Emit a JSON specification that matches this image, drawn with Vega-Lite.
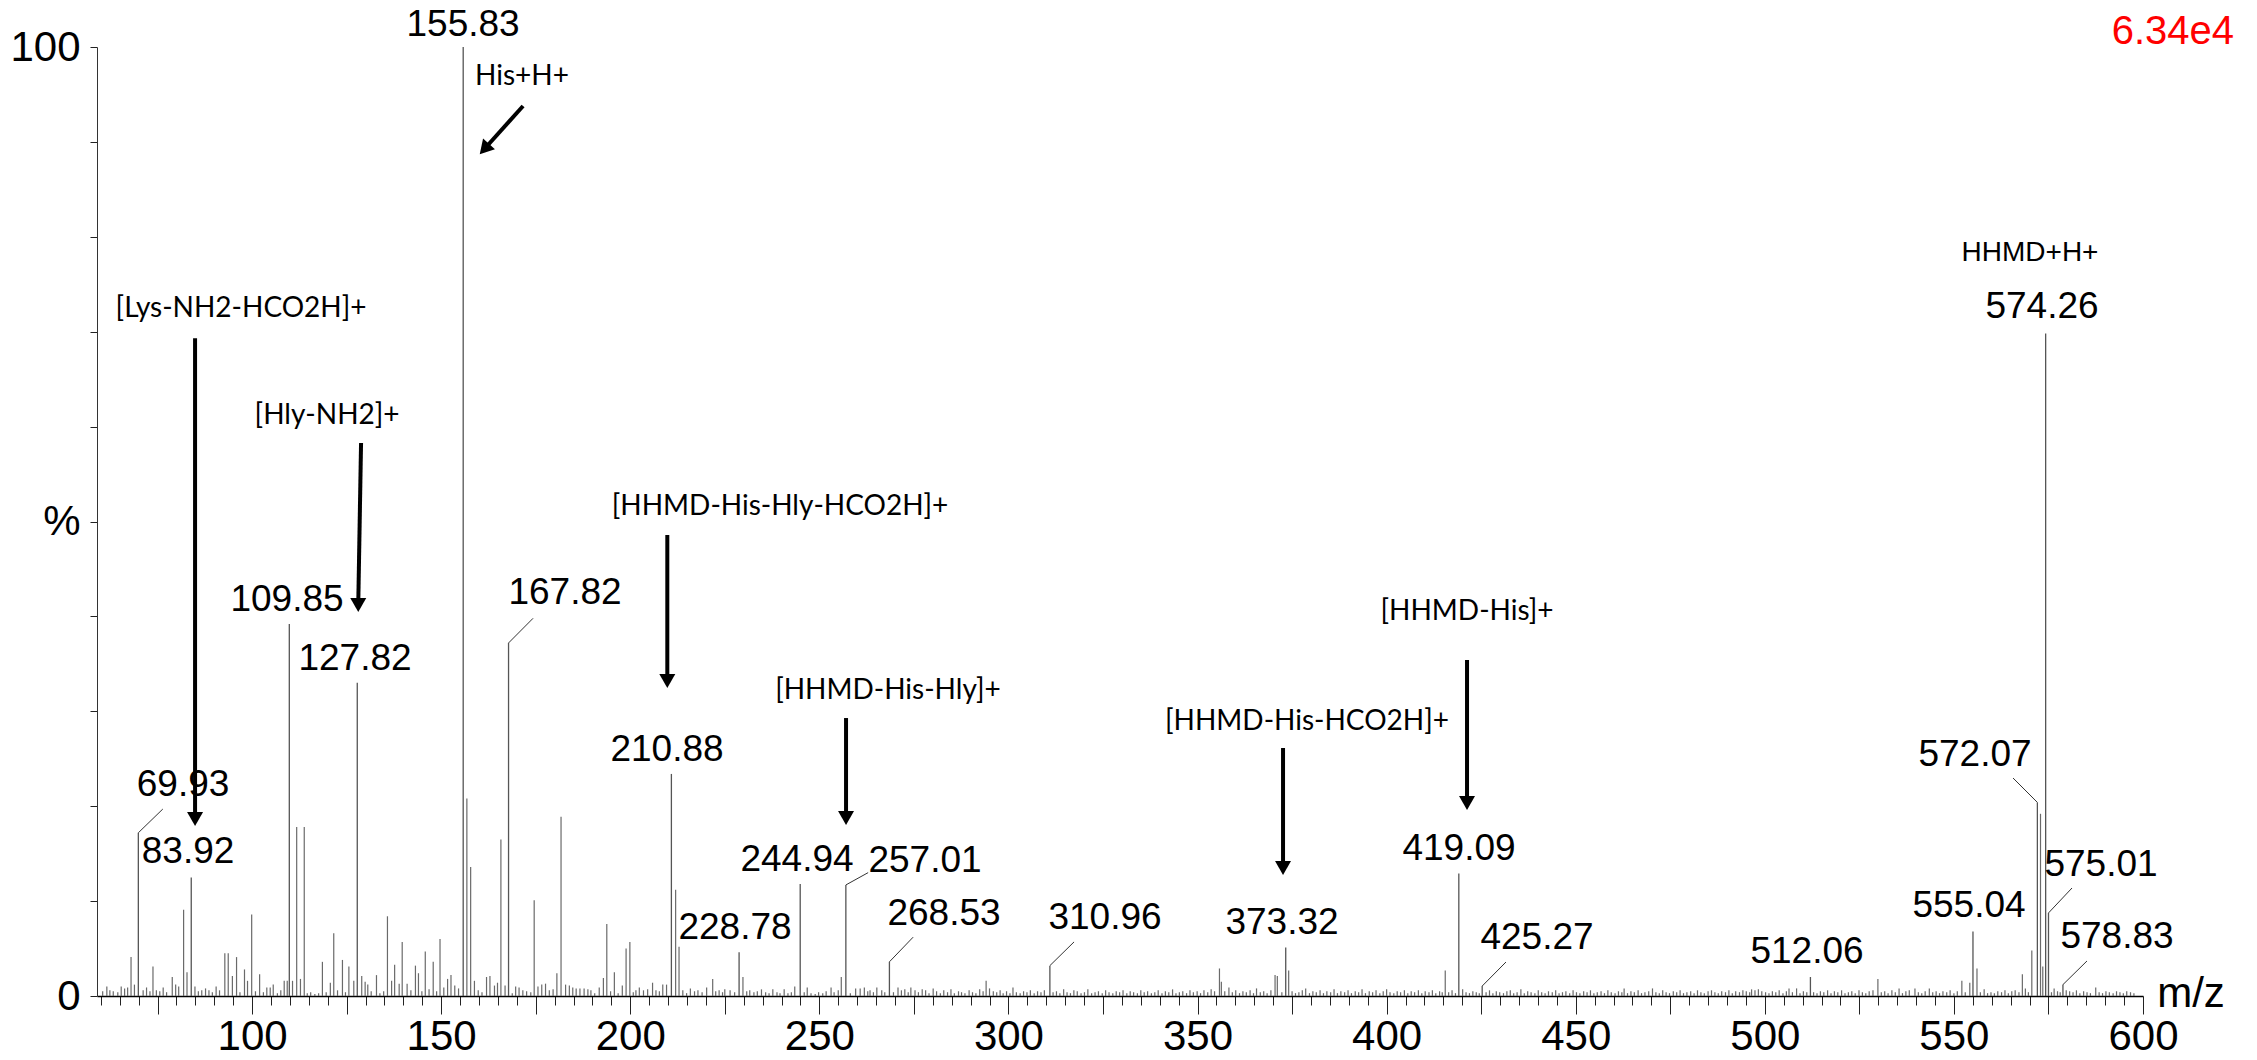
{
"$schema":"https://vega.github.io/schema/vega-lite/v6.json",
"width":2046,"height":949,"autosize":{"type":"none"},
"padding":{"left":97,"top":47,"right":114,"bottom":64},
"background":"white",
"config":{"view":{"stroke":null},"axis":{"grid":false}},
"datasets":{
"peaks":[
{"mz":69.93,"pct":17.2},{"mz":83.92,"pct":12.5},{"mz":109.85,"pct":39.2},{"mz":127.82,"pct":33.0},{"mz":155.83,"pct":100},{"mz":167.82,"pct":37.2},{"mz":210.88,"pct":23.4},{"mz":228.78,"pct":4.6},{"mz":244.94,"pct":11.8},{"mz":257.01,"pct":11.7},{"mz":268.53,"pct":3.6},{"mz":310.96,"pct":3.2},{"mz":373.32,"pct":5.1},{"mz":419.09,"pct":12.9},{"mz":425.27,"pct":1.05},{"mz":512.06,"pct":2.0},{"mz":555.04,"pct":6.8},{"mz":572.07,"pct":20.4},{"mz":574.26,"pct":69.8},{"mz":575.01,"pct":8.75},{"mz":578.83,"pct":1.2}
],
"minor":[
{"mz":60.5,"pct":0.5},{"mz":61.6,"pct":1.0},{"mz":62.4,"pct":0.6},{"mz":63.3,"pct":0.5},{"mz":64.5,"pct":0.4},{"mz":65.4,"pct":1.0},{"mz":66.3,"pct":0.8},{"mz":67.1,"pct":0.9},{"mz":68.0,"pct":4.1},{"mz":68.9,"pct":1.2},{"mz":71.2,"pct":0.6},{"mz":72.1,"pct":0.9},{"mz":73.0,"pct":0.5},{"mz":73.8,"pct":3.1},{"mz":74.7,"pct":0.6},{"mz":75.6,"pct":0.5},{"mz":76.5,"pct":0.9},{"mz":77.4,"pct":0.4},{"mz":78.9,"pct":2.0},{"mz":79.8,"pct":1.2},{"mz":80.6,"pct":1.0},{"mz":81.9,"pct":9.1},{"mz":82.8,"pct":2.5},{"mz":84.9,"pct":1.0},{"mz":85.8,"pct":0.5},{"mz":86.7,"pct":0.6},{"mz":87.7,"pct":0.8},{"mz":88.6,"pct":0.6},{"mz":89.5,"pct":0.4},{"mz":90.5,"pct":1.0},{"mz":91.4,"pct":0.6},{"mz":92.8,"pct":4.5},{"mz":93.7,"pct":4.5},{"mz":94.8,"pct":2.1},{"mz":95.9,"pct":4.1},{"mz":96.8,"pct":0.4},{"mz":98.0,"pct":2.8},{"mz":98.8,"pct":1.6},{"mz":99.9,"pct":8.6},{"mz":100.9,"pct":0.5},{"mz":102.0,"pct":2.3},{"mz":103.0,"pct":0.4},{"mz":103.9,"pct":0.9},{"mz":104.8,"pct":0.9},{"mz":105.6,"pct":1.2},{"mz":106.7,"pct":0.3},{"mz":107.6,"pct":0.6},{"mz":108.5,"pct":1.6},{"mz":109.3,"pct":1.6},{"mz":110.7,"pct":1.6},{"mz":111.8,"pct":17.8},{"mz":112.8,"pct":1.8},{"mz":113.8,"pct":17.8},{"mz":114.6,"pct":0.3},{"mz":115.5,"pct":0.4},{"mz":116.6,"pct":0.2},{"mz":117.6,"pct":0.3},{"mz":118.6,"pct":3.6},{"mz":119.6,"pct":0.4},{"mz":120.7,"pct":1.4},{"mz":121.6,"pct":6.6},{"mz":122.6,"pct":0.6},{"mz":123.9,"pct":3.8},{"mz":124.7,"pct":0.4},{"mz":125.6,"pct":3.1},{"mz":126.9,"pct":1.6},{"mz":129.0,"pct":2.1},{"mz":129.9,"pct":1.5},{"mz":130.6,"pct":1.2},{"mz":131.5,"pct":0.5},{"mz":132.9,"pct":2.2},{"mz":133.8,"pct":0.3},{"mz":134.8,"pct":0.5},{"mz":135.8,"pct":8.4},{"mz":136.9,"pct":1.6},{"mz":137.7,"pct":3.3},{"mz":138.9,"pct":1.3},{"mz":139.7,"pct":5.7},{"mz":141.0,"pct":1.3},{"mz":142.0,"pct":0.6},{"mz":143.2,"pct":3.2},{"mz":144.0,"pct":2.4},{"mz":144.9,"pct":0.5},{"mz":145.8,"pct":4.7},{"mz":146.8,"pct":0.7},{"mz":147.9,"pct":3.6},{"mz":148.8,"pct":0.5},{"mz":149.7,"pct":6.0},{"mz":150.7,"pct":0.9},{"mz":151.7,"pct":1.8},{"mz":152.6,"pct":2.2},{"mz":153.6,"pct":1.1},{"mz":154.6,"pct":0.8},{"mz":156.8,"pct":20.8},{"mz":157.8,"pct":13.6},{"mz":158.8,"pct":1.6},{"mz":159.8,"pct":0.6},{"mz":160.8,"pct":0.4},{"mz":162.0,"pct":2.0},{"mz":162.9,"pct":2.1},{"mz":164.1,"pct":1.1},{"mz":164.9,"pct":1.4},{"mz":165.8,"pct":16.5},{"mz":166.9,"pct":1.1},{"mz":168.8,"pct":0.3},{"mz":169.7,"pct":1.0},{"mz":170.6,"pct":0.9},{"mz":171.6,"pct":0.6},{"mz":172.6,"pct":0.5},{"mz":173.7,"pct":0.4},{"mz":174.6,"pct":10.1},{"mz":175.6,"pct":1.0},{"mz":176.6,"pct":1.2},{"mz":177.6,"pct":1.3},{"mz":178.6,"pct":0.6},{"mz":179.6,"pct":0.7},{"mz":180.6,"pct":2.4},{"mz":181.7,"pct":18.9},{"mz":182.9,"pct":1.2},{"mz":183.9,"pct":1.1},{"mz":184.8,"pct":0.9},{"mz":185.7,"pct":0.8},{"mz":186.7,"pct":0.8},{"mz":187.8,"pct":0.8},{"mz":188.8,"pct":0.7},{"mz":189.6,"pct":0.6},{"mz":190.6,"pct":0.3},{"mz":191.8,"pct":0.9},{"mz":192.9,"pct":1.9},{"mz":193.8,"pct":7.6},{"mz":194.8,"pct":0.5},{"mz":195.8,"pct":2.5},{"mz":196.8,"pct":0.3},{"mz":197.9,"pct":1.1},{"mz":198.9,"pct":5.0},{"mz":199.9,"pct":5.7},{"mz":200.8,"pct":0.4},{"mz":201.5,"pct":0.6},{"mz":202.4,"pct":0.9},{"mz":203.5,"pct":0.6},{"mz":204.6,"pct":0.7},{"mz":205.9,"pct":1.4},{"mz":206.8,"pct":0.6},{"mz":207.7,"pct":0.5},{"mz":208.6,"pct":1.2},{"mz":209.6,"pct":1.2},{"mz":212.0,"pct":11.2},{"mz":212.9,"pct":5.2},{"mz":213.9,"pct":0.6},{"mz":214.9,"pct":0.3},{"mz":215.9,"pct":0.8},{"mz":217.0,"pct":0.5},{"mz":217.9,"pct":0.6},{"mz":219.0,"pct":0.4},{"mz":220.2,"pct":0.9},{"mz":221.8,"pct":1.8},{"mz":222.6,"pct":0.5},{"mz":223.5,"pct":0.6},{"mz":224.4,"pct":0.4},{"mz":225.0,"pct":0.7},{"mz":226.4,"pct":0.6},{"mz":227.6,"pct":0.4},{"mz":229.8,"pct":2.0},{"mz":230.8,"pct":0.5},{"mz":231.6,"pct":0.6},{"mz":232.7,"pct":0.4},{"mz":233.6,"pct":0.5},{"mz":234.7,"pct":0.7},{"mz":235.8,"pct":0.4},{"mz":236.7,"pct":0.3},{"mz":237.7,"pct":0.7},{"mz":238.8,"pct":0.4},{"mz":239.6,"pct":0.3},{"mz":240.7,"pct":0.7},{"mz":241.7,"pct":0.3},{"mz":242.6,"pct":0.4},{"mz":243.5,"pct":1.0},{"mz":246.0,"pct":0.4},{"mz":246.8,"pct":0.9},{"mz":247.8,"pct":0.3},{"mz":248.9,"pct":0.2},{"mz":249.8,"pct":0.4},{"mz":250.9,"pct":0.3},{"mz":251.8,"pct":0.5},{"mz":253.1,"pct":0.9},{"mz":253.9,"pct":0.4},{"mz":255.0,"pct":0.6},{"mz":255.8,"pct":2.0},{"mz":258.2,"pct":0.3},{"mz":259.6,"pct":0.8},{"mz":260.8,"pct":0.8},{"mz":261.9,"pct":0.9},{"mz":262.8,"pct":0.5},{"mz":263.4,"pct":0.6},{"mz":264.3,"pct":0.4},{"mz":265.2,"pct":0.9},{"mz":266.5,"pct":0.6},{"mz":267.3,"pct":0.4},{"mz":269.6,"pct":0.4},{"mz":270.8,"pct":0.9},{"mz":271.7,"pct":0.6},{"mz":272.6,"pct":0.7},{"mz":273.5,"pct":0.4},{"mz":274.2,"pct":0.9},{"mz":275.3,"pct":0.6},{"mz":276.2,"pct":0.4},{"mz":277.2,"pct":0.7},{"mz":278.1,"pct":0.6},{"mz":279.0,"pct":0.3},{"mz":280.1,"pct":0.8},{"mz":281.0,"pct":0.5},{"mz":282.0,"pct":0.3},{"mz":282.9,"pct":0.6},{"mz":283.9,"pct":0.4},{"mz":284.8,"pct":0.7},{"mz":285.7,"pct":0.3},{"mz":286.8,"pct":0.5},{"mz":287.6,"pct":0.4},{"mz":288.5,"pct":0.3},{"mz":289.6,"pct":0.6},{"mz":290.5,"pct":0.4},{"mz":291.4,"pct":0.3},{"mz":292.4,"pct":0.7},{"mz":293.3,"pct":0.5},{"mz":294.1,"pct":1.6},{"mz":295.0,"pct":0.8},{"mz":296.0,"pct":0.5},{"mz":296.9,"pct":0.4},{"mz":297.8,"pct":0.6},{"mz":298.6,"pct":0.3},{"mz":299.5,"pct":0.5},{"mz":300.4,"pct":0.3},{"mz":301.2,"pct":0.9},{"mz":302.1,"pct":0.4},{"mz":303.1,"pct":0.3},{"mz":304.0,"pct":0.5},{"mz":304.9,"pct":0.4},{"mz":305.8,"pct":0.6},{"mz":306.8,"pct":0.3},{"mz":307.7,"pct":0.5},{"mz":308.6,"pct":0.4},{"mz":309.5,"pct":0.6},{"mz":311.8,"pct":0.4},{"mz":312.7,"pct":0.5},{"mz":313.6,"pct":0.3},{"mz":314.6,"pct":0.7},{"mz":315.5,"pct":0.4},{"mz":316.4,"pct":0.3},{"mz":317.3,"pct":0.6},{"mz":318.2,"pct":0.5},{"mz":319.2,"pct":0.3},{"mz":320.1,"pct":0.4},{"mz":321.0,"pct":0.7},{"mz":322.0,"pct":0.3},{"mz":322.9,"pct":0.4},{"mz":323.8,"pct":0.5},{"mz":324.8,"pct":0.3},{"mz":325.7,"pct":0.6},{"mz":326.6,"pct":0.4},{"mz":327.6,"pct":0.3},{"mz":328.5,"pct":0.5},{"mz":329.4,"pct":0.4},{"mz":330.3,"pct":0.6},{"mz":331.3,"pct":0.3},{"mz":332.2,"pct":0.5},{"mz":333.1,"pct":0.4},{"mz":334.1,"pct":0.3},{"mz":335.0,"pct":0.6},{"mz":335.9,"pct":0.4},{"mz":336.8,"pct":0.5},{"mz":337.8,"pct":0.3},{"mz":338.7,"pct":0.4},{"mz":339.6,"pct":0.6},{"mz":340.6,"pct":0.3},{"mz":341.5,"pct":0.5},{"mz":342.4,"pct":0.4},{"mz":343.4,"pct":0.7},{"mz":344.3,"pct":0.3},{"mz":345.2,"pct":0.4},{"mz":346.1,"pct":0.5},{"mz":347.1,"pct":0.3},{"mz":348.0,"pct":0.6},{"mz":348.9,"pct":0.4},{"mz":349.9,"pct":0.5},{"mz":350.8,"pct":0.3},{"mz":351.7,"pct":0.6},{"mz":352.7,"pct":0.4},{"mz":353.6,"pct":0.7},{"mz":354.5,"pct":0.5},{"mz":355.8,"pct":2.9},{"mz":356.3,"pct":1.5},{"mz":357.2,"pct":0.5},{"mz":358.3,"pct":0.9},{"mz":359.2,"pct":0.4},{"mz":360.1,"pct":0.6},{"mz":361.1,"pct":0.3},{"mz":362.0,"pct":0.5},{"mz":362.9,"pct":0.4},{"mz":363.9,"pct":0.6},{"mz":364.8,"pct":0.3},{"mz":365.6,"pct":0.8},{"mz":366.6,"pct":0.4},{"mz":367.5,"pct":0.5},{"mz":368.4,"pct":0.3},{"mz":369.4,"pct":0.6},{"mz":370.5,"pct":2.2},{"mz":371.1,"pct":2.1},{"mz":372.3,"pct":0.4},{"mz":374.1,"pct":2.7},{"mz":375.0,"pct":0.5},{"mz":375.9,"pct":0.3},{"mz":376.8,"pct":0.4},{"mz":377.7,"pct":0.6},{"mz":378.6,"pct":0.8},{"mz":379.6,"pct":0.3},{"mz":380.5,"pct":0.5},{"mz":381.4,"pct":0.4},{"mz":382.4,"pct":0.6},{"mz":383.3,"pct":0.3},{"mz":384.2,"pct":0.5},{"mz":385.2,"pct":0.4},{"mz":386.1,"pct":0.7},{"mz":387.0,"pct":0.3},{"mz":387.9,"pct":0.5},{"mz":388.9,"pct":0.4},{"mz":389.8,"pct":0.6},{"mz":390.7,"pct":0.3},{"mz":391.7,"pct":0.5},{"mz":392.6,"pct":0.4},{"mz":393.5,"pct":0.7},{"mz":394.4,"pct":0.3},{"mz":395.4,"pct":0.5},{"mz":396.3,"pct":0.4},{"mz":397.2,"pct":0.6},{"mz":398.2,"pct":0.3},{"mz":399.1,"pct":0.5},{"mz":400.0,"pct":0.7},{"mz":400.9,"pct":0.4},{"mz":401.9,"pct":0.3},{"mz":402.8,"pct":0.5},{"mz":403.7,"pct":0.4},{"mz":404.7,"pct":0.6},{"mz":405.6,"pct":0.3},{"mz":406.5,"pct":0.5},{"mz":407.4,"pct":0.4},{"mz":408.4,"pct":0.6},{"mz":409.3,"pct":0.3},{"mz":410.2,"pct":0.5},{"mz":411.2,"pct":0.4},{"mz":412.1,"pct":0.6},{"mz":413.0,"pct":0.3},{"mz":414.0,"pct":0.5},{"mz":414.7,"pct":0.4},{"mz":415.5,"pct":2.7},{"mz":416.4,"pct":0.4},{"mz":417.3,"pct":0.6},{"mz":418.2,"pct":0.3},{"mz":420.1,"pct":0.7},{"mz":421.0,"pct":0.4},{"mz":421.9,"pct":0.3},{"mz":422.8,"pct":0.5},{"mz":423.7,"pct":0.4},{"mz":424.5,"pct":0.3},{"mz":426.3,"pct":0.4},{"mz":427.2,"pct":0.6},{"mz":428.1,"pct":0.3},{"mz":429.0,"pct":0.5},{"mz":429.9,"pct":0.4},{"mz":430.9,"pct":0.3},{"mz":431.8,"pct":0.5},{"mz":432.7,"pct":0.6},{"mz":433.6,"pct":0.3},{"mz":434.5,"pct":0.4},{"mz":435.5,"pct":0.7},{"mz":436.4,"pct":0.3},{"mz":437.3,"pct":0.5},{"mz":438.2,"pct":0.4},{"mz":439.2,"pct":0.3},{"mz":440.1,"pct":0.6},{"mz":441.0,"pct":0.4},{"mz":441.9,"pct":0.3},{"mz":442.8,"pct":0.5},{"mz":443.8,"pct":0.4},{"mz":444.7,"pct":0.6},{"mz":445.6,"pct":0.3},{"mz":446.5,"pct":0.4},{"mz":447.4,"pct":0.5},{"mz":448.4,"pct":0.3},{"mz":449.3,"pct":0.6},{"mz":450.2,"pct":0.4},{"mz":451.1,"pct":0.3},{"mz":452.1,"pct":0.5},{"mz":453.0,"pct":0.4},{"mz":453.9,"pct":0.6},{"mz":454.8,"pct":0.3},{"mz":455.7,"pct":0.4},{"mz":456.7,"pct":0.5},{"mz":457.6,"pct":0.3},{"mz":458.5,"pct":0.6},{"mz":459.4,"pct":0.4},{"mz":460.4,"pct":0.3},{"mz":461.3,"pct":0.5},{"mz":462.2,"pct":0.4},{"mz":462.8,"pct":0.8},{"mz":463.7,"pct":0.3},{"mz":464.6,"pct":0.5},{"mz":465.5,"pct":0.4},{"mz":466.5,"pct":0.6},{"mz":467.4,"pct":0.3},{"mz":468.3,"pct":0.4},{"mz":469.3,"pct":0.5},{"mz":470.3,"pct":0.8},{"mz":471.2,"pct":0.4},{"mz":472.1,"pct":0.3},{"mz":473.0,"pct":0.6},{"mz":473.9,"pct":0.4},{"mz":474.8,"pct":0.3},{"mz":475.8,"pct":0.5},{"mz":476.7,"pct":0.4},{"mz":477.6,"pct":0.6},{"mz":478.5,"pct":0.3},{"mz":479.4,"pct":0.4},{"mz":480.4,"pct":0.5},{"mz":481.3,"pct":0.3},{"mz":482.2,"pct":0.6},{"mz":483.1,"pct":0.4},{"mz":484.0,"pct":0.3},{"mz":485.0,"pct":0.5},{"mz":485.9,"pct":0.6},{"mz":486.8,"pct":0.4},{"mz":487.7,"pct":0.3},{"mz":488.6,"pct":0.5},{"mz":489.6,"pct":0.4},{"mz":490.5,"pct":0.6},{"mz":491.4,"pct":0.3},{"mz":492.3,"pct":0.5},{"mz":493.3,"pct":0.4},{"mz":494.2,"pct":0.6},{"mz":495.1,"pct":0.5},{"mz":496.0,"pct":0.4},{"mz":496.5,"pct":0.7},{"mz":497.4,"pct":0.6},{"mz":498.3,"pct":0.7},{"mz":499.2,"pct":0.5},{"mz":500.2,"pct":0.4},{"mz":501.1,"pct":0.3},{"mz":502.0,"pct":0.5},{"mz":502.9,"pct":0.4},{"mz":503.8,"pct":0.6},{"mz":504.8,"pct":0.3},{"mz":505.7,"pct":0.5},{"mz":506.4,"pct":0.8},{"mz":507.3,"pct":0.4},{"mz":508.4,"pct":0.8},{"mz":509.3,"pct":0.3},{"mz":510.2,"pct":0.5},{"mz":511.1,"pct":0.4},{"mz":512.9,"pct":0.4},{"mz":513.8,"pct":0.3},{"mz":514.7,"pct":0.5},{"mz":515.6,"pct":0.4},{"mz":516.6,"pct":0.6},{"mz":517.5,"pct":0.3},{"mz":518.4,"pct":0.5},{"mz":519.3,"pct":0.4},{"mz":520.3,"pct":0.6},{"mz":521.2,"pct":0.3},{"mz":522.1,"pct":0.4},{"mz":523.0,"pct":0.5},{"mz":523.9,"pct":0.3},{"mz":524.9,"pct":0.6},{"mz":525.8,"pct":0.4},{"mz":526.7,"pct":0.3},{"mz":527.6,"pct":0.5},{"mz":528.6,"pct":0.6},{"mz":529.9,"pct":1.8},{"mz":530.8,"pct":0.4},{"mz":531.7,"pct":0.5},{"mz":532.6,"pct":0.3},{"mz":533.6,"pct":0.6},{"mz":534.5,"pct":0.4},{"mz":535.5,"pct":0.8},{"mz":536.4,"pct":0.3},{"mz":537.3,"pct":0.5},{"mz":538.2,"pct":0.6},{"mz":539.7,"pct":0.8},{"mz":540.6,"pct":0.4},{"mz":541.5,"pct":0.3},{"mz":542.4,"pct":0.5},{"mz":543.5,"pct":0.8},{"mz":544.4,"pct":0.4},{"mz":545.3,"pct":0.5},{"mz":546.2,"pct":0.3},{"mz":547.1,"pct":0.5},{"mz":548.1,"pct":0.4},{"mz":549.0,"pct":0.6},{"mz":550.0,"pct":0.3},{"mz":550.9,"pct":0.5},{"mz":552.1,"pct":1.6},{"mz":553.0,"pct":0.4},{"mz":554.2,"pct":1.4},{"mz":556.1,"pct":2.9},{"mz":557.0,"pct":0.4},{"mz":558.0,"pct":0.7},{"mz":558.9,"pct":0.3},{"mz":559.8,"pct":0.4},{"mz":560.7,"pct":0.3},{"mz":561.6,"pct":0.5},{"mz":562.6,"pct":0.4},{"mz":563.5,"pct":0.6},{"mz":564.4,"pct":0.3},{"mz":565.3,"pct":0.5},{"mz":566.2,"pct":0.6},{"mz":567.2,"pct":0.4},{"mz":568.1,"pct":2.3},{"mz":568.9,"pct":0.8},{"mz":569.7,"pct":0.4},{"mz":570.6,"pct":4.8},{"mz":572.9,"pct":19.2},{"mz":573.5,"pct":3.1},{"mz":575.8,"pct":0.4},{"mz":576.5,"pct":0.8},{"mz":577.4,"pct":0.5},{"mz":578.1,"pct":0.4},{"mz":579.7,"pct":0.6},{"mz":580.6,"pct":0.5},{"mz":581.5,"pct":0.4},{"mz":582.4,"pct":0.6},{"mz":583.3,"pct":0.3},{"mz":584.3,"pct":0.5},{"mz":585.2,"pct":0.4},{"mz":586.1,"pct":0.3},{"mz":587.5,"pct":0.9},{"mz":588.4,"pct":0.4},{"mz":589.3,"pct":0.3},{"mz":590.2,"pct":0.5},{"mz":591.1,"pct":0.4},{"mz":592.1,"pct":0.3},{"mz":593.0,"pct":0.5},{"mz":593.9,"pct":0.4},{"mz":594.8,"pct":0.3},{"mz":595.7,"pct":0.5},{"mz":596.7,"pct":0.4},{"mz":597.6,"pct":0.3}
],
"leaders":[
{"mz":69.93,"pct":17.2,"mz2":76.4,"pct2":19.7},{"mz":167.82,"pct":37.2,"mz2":174.3,"pct2":39.8},{"mz":257.01,"pct":11.7,"mz2":262.9,"pct2":13.0},{"mz":268.53,"pct":3.6,"mz2":274.8,"pct2":6.2},{"mz":310.96,"pct":3.2,"mz2":317.35,"pct2":5.7},{"mz":425.27,"pct":1.05,"mz2":431.56,"pct2":3.58},{"mz":572.07,"pct":20.4,"mz2":565.63,"pct2":22.97},{"mz":575.01,"pct":8.75,"mz2":581.23,"pct2":11.38},{"mz":578.83,"pct":1.2,"mz2":585.19,"pct2":3.69}
],
"arrows":[
{"mz":84.93,"pct":18.65,"mz2":84.93,"pct2":69.3,"kind":"v"},{"mz":128.08,"pct":41.2,"mz2":128.82,"pct2":58.27,"kind":"v"},{"mz":209.8,"pct":33.19,"mz2":209.8,"pct2":48.58,"kind":"v"},{"mz":257.06,"pct":18.76,"mz2":257.06,"pct2":29.29,"kind":"v"},{"mz":372.61,"pct":13.49,"mz2":372.61,"pct2":26.13,"kind":"v"},{"mz":421.26,"pct":20.34,"mz2":421.26,"pct2":35.41,"kind":"v"},{"mz":161.43,"pct":89.25,"mz2":171.66,"pct2":93.78,"kind":"d"}
],
"labels":[
{"text":"155.83","mz":155.79,"pct":102.3,"kind":"peak"},{"text":"574.26","mz":573.3,"pct":72.6,"kind":"peak"},{"text":"109.85","mz":109.25,"pct":41.73,"kind":"peak"},{"text":"127.82","mz":127.23,"pct":35.51,"kind":"peak"},{"text":"167.82","mz":182.76,"pct":42.47,"kind":"peak"},{"text":"69.93","mz":81.76,"pct":22.23,"kind":"peak"},{"text":"83.92","mz":83.08,"pct":15.17,"kind":"peak"},{"text":"210.88","mz":209.73,"pct":25.92,"kind":"peak"},{"text":"228.78","mz":227.71,"pct":7.17,"kind":"peak"},{"text":"244.94","mz":244.1,"pct":14.33,"kind":"peak"},{"text":"257.01","mz":277.95,"pct":14.23,"kind":"peak"},{"text":"268.53","mz":282.97,"pct":8.64,"kind":"peak"},{"text":"310.96","mz":325.54,"pct":8.22,"kind":"peak"},{"text":"373.32","mz":372.34,"pct":7.69,"kind":"peak"},{"text":"419.09","mz":419.14,"pct":15.49,"kind":"peak"},{"text":"425.27","mz":439.77,"pct":6.11,"kind":"peak"},{"text":"512.06","mz":511.16,"pct":4.64,"kind":"peak"},{"text":"555.04","mz":553.99,"pct":9.48,"kind":"peak"},{"text":"572.07","mz":555.58,"pct":25.4,"kind":"peak"},{"text":"575.01","mz":588.89,"pct":13.8,"kind":"peak"},{"text":"578.83","mz":593.12,"pct":6.22,"kind":"peak"},
{"text":"His+H+","mz":171.39,"pct":96.84,"kind":"ann"},{"text":"[Lys-NH2-HCO2H]+","mz":97.09,"pct":72.4,"kind":"ann"},{"text":"[Hly-NH2]+","mz":119.83,"pct":61.12,"kind":"ann"},{"text":"[HHMD-His-Hly-HCO2H]+","mz":239.61,"pct":51.53,"kind":"ann"},{"text":"[HHMD-His-Hly]+","mz":268.16,"pct":32.14,"kind":"ann"},{"text":"[HHMD-His-HCO2H]+","mz":378.95,"pct":28.87,"kind":"ann"},{"text":"[HHMD-His]+","mz":421.26,"pct":40.46,"kind":"ann"},
{"text":"HHMD+H+","mz":570.12,"pct":78.29,"kind":"ann2"},{"text":"6.34e4","mz":607.9,"pct":101.6,"kind":"scale"},{"text":"m/z","mz":612.7,"pct":0.2,"kind":"unit"}
]
},
"encoding":{
"x":{"field":"mz","type":"quantitative","scale":{"domain":[59,600],"nice":false,"zero":false},
"axis":{"title":null,"values":[60,65,70,75,80,85,90,95,100,105,110,115,120,125,130,135,140,145,150,155,160,165,170,175,180,185,190,195,200,205,210,215,220,225,230,235,240,245,250,255,260,265,270,275,280,285,290,295,300,305,310,315,320,325,330,335,340,345,350,355,360,365,370,375,380,385,390,395,400,405,410,415,420,425,430,435,440,445,450,455,460,465,470,475,480,485,490,495,500,505,510,515,520,525,530,535,540,545,550,555,560,565,570,575,580,585,590,595,600],
"tickSize":{"condition":{"test":"datum.value % 25 === 0","value":18},"value":9},
"tickColor":"#222","tickWidth":1,"domainColor":"black","domainWidth":1.5,
"labelExpr":"(datum.value % 50 === 0 && datum.value >= 100) ? datum.label : ''",
"labelOverlap":false,"labelFlush":false,"labelFont":"Liberation Sans","labelFontSize":42,"labelColor":"black","labelPadding":2}},
"y":{"field":"pct","type":"quantitative","scale":{"domain":[0,100],"nice":false},
"axis":{"title":null,"values":[0,10,20,30,40,50,60,70,80,90,100],"tickSize":7,"tickColor":"#222","domainColor":"#333","domainWidth":1,
"labelExpr":"datum.value === 50 ? '%' : ((datum.value === 0 || datum.value === 100) ? datum.label : '')",
"labelOverlap":false,"labelFont":"Liberation Sans","labelFontSize":42,"labelColor":"black","labelPadding":10}}
},
"layer":[
{"data":{"name":"minor"},"mark":{"type":"rule","color":"#6a6a6a","strokeWidth":1.2},"encoding":{"y2":{"datum":0}}},
{"data":{"name":"peaks"},"mark":{"type":"rule","color":"#555555","strokeWidth":1.3},"encoding":{"y2":{"datum":0}}},
{"data":{"name":"leaders"},"mark":{"type":"rule","color":"#333333","strokeWidth":1},"encoding":{"x2":{"field":"mz2"},"y2":{"field":"pct2"}}},
{"data":{"name":"arrows"},"mark":{"type":"rule","color":"black","strokeWidth":4},"encoding":{"x2":{"field":"mz2"},"y2":{"field":"pct2"}}},
{"data":{"name":"arrows"},"transform":[{"filter":"datum.kind === 'v'"}],"mark":{"type":"point","shape":"triangle-down","filled":true,"size":256,"color":"black","opacity":1,"strokeWidth":0},"encoding":{}},
{"data":{"name":"arrows"},"transform":[{"filter":"datum.kind === 'd'"}],"mark":{"type":"point","shape":"triangle-up","angle":222,"filled":true,"size":256,"color":"black","opacity":1,"strokeWidth":0},"encoding":{}},
{"data":{"name":"labels"},"transform":[{"filter":"datum.kind === 'peak'"}],"mark":{"type":"text","font":"Liberation Sans","fontSize":37,"color":"black","align":"center","baseline":"middle"},"encoding":{"text":{"field":"text"}}},
{"data":{"name":"labels"},"transform":[{"filter":"datum.kind === 'ann'"}],"mark":{"type":"text","font":"Lato","fontSize":28,"color":"black","align":"center","baseline":"middle"},"encoding":{"text":{"field":"text"}}},
{"data":{"name":"labels"},"transform":[{"filter":"datum.kind === 'ann2'"}],"mark":{"type":"text","font":"Liberation Sans","fontSize":28,"color":"black","align":"center","baseline":"middle"},"encoding":{"text":{"field":"text"}}},
{"data":{"name":"labels"},"transform":[{"filter":"datum.kind === 'scale'"}],"mark":{"type":"text","font":"Liberation Sans","fontSize":40,"color":"#ff0000","align":"center","baseline":"middle"},"encoding":{"text":{"field":"text"}}},
{"data":{"name":"labels"},"transform":[{"filter":"datum.kind === 'unit'"}],"mark":{"type":"text","font":"Liberation Sans","fontSize":42,"color":"black","align":"center","baseline":"middle"},"encoding":{"text":{"field":"text"}}}
]
}
